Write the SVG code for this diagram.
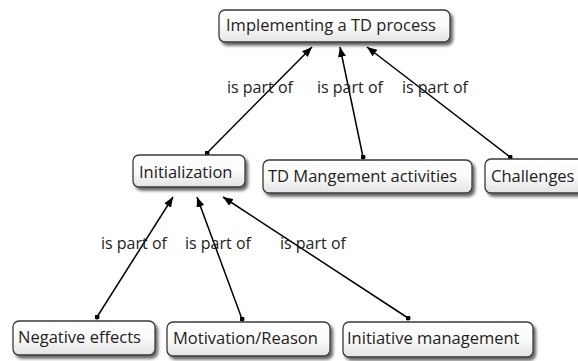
<svg xmlns="http://www.w3.org/2000/svg" width="578" height="361" viewBox="0 0 578 361">
<defs>
<linearGradient id="g" x1="0" y1="0" x2="0" y2="1">
<stop offset="0" stop-color="#ffffff"/>
<stop offset="0.5" stop-color="#fbfbfb"/>
<stop offset="1" stop-color="#e2e2e2"/>
</linearGradient>
<filter id="sh" x="-10%" y="-30%" width="130%" height="180%">
<feDropShadow dx="2.5" dy="3" stdDeviation="1.5" flood-color="#000" flood-opacity="0.6"/>
</filter>
<marker id="ah" viewBox="0 0 10 8" refX="10" refY="4" markerWidth="10" markerHeight="8" markerUnits="userSpaceOnUse" orient="auto">
<path d="M0,0 L10,4 L0,8 z" fill="#000"/>
</marker>
<marker id="dot" viewBox="0 0 6 6" refX="3" refY="3" markerWidth="5" markerHeight="5" markerUnits="userSpaceOnUse">
<circle cx="3" cy="3" r="3" fill="#000"/>
</marker>
</defs>
<style>
.box{fill:url(#g);stroke:#3a3a3a;stroke-width:1.3;filter:url(#sh)}
.t{font-family:"Open Sans","Noto Sans",sans-serif;font-size:16.5px;fill:#222}
.lbl{font-family:"Open Sans","Noto Sans",sans-serif;font-size:16px;fill:#222}
.c{stroke:#000;stroke-width:1.5;fill:none;marker-start:url(#dot);marker-end:url(#ah)}
</style>
<rect width="578" height="361" fill="#fff"/>
<g id="connectors">
<line class="c" x1="207" y1="153" x2="312" y2="47"/>
<line class="c" x1="363" y1="157" x2="340" y2="47"/>
<line class="c" x1="510" y1="157" x2="367" y2="47"/>
<line class="c" x1="97" y1="317" x2="173" y2="197"/>
<line class="c" x1="242" y1="319" x2="197" y2="197"/>
<line class="c" x1="408" y1="318" x2="223" y2="197"/>
<text class="lbl" x="227" y="93">is part of</text>
<text class="lbl" x="317" y="93">is part of</text>
<text class="lbl" x="402" y="93">is part of</text>
<text class="lbl" x="101" y="249">is part of</text>
<text class="lbl" x="185" y="249">is part of</text>
<text class="lbl" x="280" y="249">is part of</text>
</g>
<g id="n-implementing">
<rect class="box" x="219" y="10" width="231" height="32" rx="6"/>
<text class="t" x="226" y="31">Implementing a TD process</text>
</g>
<g id="n-initialization">
<rect class="box" x="133" y="155" width="112" height="32" rx="6"/>
<text class="t" x="139" y="178">Initialization</text>
</g>
<g id="n-tdmgmt">
<rect class="box" x="263" y="160" width="209" height="33" rx="6"/>
<text class="t" x="268" y="182">TD Mangement activities</text>
</g>
<g id="n-challenges">
<rect class="box" x="485" y="159" width="100" height="34" rx="6"/>
<text class="t" x="491" y="182">Challenges</text>
</g>
<g id="n-negative">
<rect class="box" x="13" y="321" width="142" height="34" rx="6"/>
<text class="t" x="18" y="343">Negative effects</text>
</g>
<g id="n-motivation">
<rect class="box" x="167" y="322" width="163" height="34" rx="6"/>
<text class="t" x="173" y="344">Motivation/Reason</text>
</g>
<g id="n-initiative">
<rect class="box" x="343" y="322" width="190" height="35" rx="6"/>
<text class="t" x="347" y="344">Initiative management</text>
</g>
</svg>
